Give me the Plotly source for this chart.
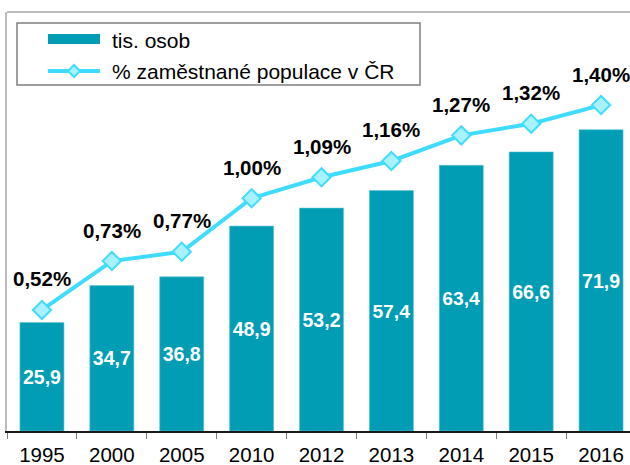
import plotly.graph_objects as go

years = ["1995", "2000", "2005", "2010", "2012", "2013", "2014", "2015", "2016"]
tis_osob = [25.9, 34.7, 36.8, 48.9, 53.2, 57.4, 63.4, 66.6, 71.9]
podil_pct = [0.52, 0.73, 0.77, 1.00, 1.09, 1.16, 1.27, 1.32, 1.40]
name_bar = "tis. osob"
name_line = "% zaměstnané populace v ČR"

BAR = "#009db5"
LINE = "#3fdcff"
MFILL = "#a8f2ff"
FONT = "Liberation Sans, Arial, sans-serif"

W, H = 630, 465
ML, MR, MT, MB = 7, 0, 12, 34
PW, PH = W - ML - MR, H - MT - MB


def px(x):
    return (x - ML) / PW


def py(y):
    return 1 - (y - MT) / PH


fig = go.Figure()
fig.add_trace(go.Bar(
    x=years, y=tis_osob, name=name_bar, showlegend=False,
    marker=dict(color=BAR, line=dict(color="#5fc4d4", width=0.6)),
    width=0.63,
    texttemplate="%{y:.1f}", textposition="inside", insidetextanchor="middle",
    textangle=0,
    textfont=dict(family=FONT, size=20.5, color="white", weight="bold"),
))
fig.add_trace(go.Scatter(
    x=years, y=podil_pct, name=name_line, yaxis="y2", showlegend=False,
    mode="lines+markers",
    line=dict(color=LINE, width=4),
    marker=dict(symbol="diamond", size=14, color=MFILL, line=dict(color=LINE, width=2)),
))

# percentage labels above the line points (category index used as x)
for i, v in enumerate(podil_pct):
    fig.add_annotation(
        x=i, y=v, xref="x", yref="y2", text=f"{v:.2f}".replace(".", ",") + "%",
        showarrow=False, yshift=31,
        font=dict(family=FONT, size=20.5, color="black", weight="bold"),
    )

# top frame line of the plot area
fig.add_shape(type="line", xref="paper", yref="paper", x0=0, x1=1, y0=1, y1=1,
              line=dict(color="#bcbcbc", width=2))

# legend box (drawn to match the reference's wide swatches)
fig.add_shape(type="rect", xref="paper", yref="paper",
              x0=px(17), x1=px(420), y0=py(85), y1=py(23),
              line=dict(color="#7f7f7f", width=1.5), fillcolor="white", layer="above")
fig.add_shape(type="rect", xref="paper", yref="paper",
              x0=px(48), x1=px(100), y0=py(44), y1=py(34),
              line=dict(width=0), fillcolor=BAR, layer="above")
fig.add_shape(type="line", xref="paper", yref="paper",
              x0=px(48), x1=px(100), y0=py(71), y1=py(71),
              line=dict(color=LINE, width=4), layer="above")
fig.add_shape(type="path", xref="paper", yref="paper",
              path=(f"M {px(74)},{py(65)} L {px(80)},{py(71)} L {px(74)},{py(77)} "
                    f"L {px(68)},{py(71)} Z"),
              line=dict(color=LINE, width=2), fillcolor=MFILL, layer="above")
fig.add_annotation(xref="paper", yref="paper", x=px(110), y=py(40), text=name_bar,
                   xanchor="left", yanchor="middle", showarrow=False,
                   font=dict(family=FONT, size=21, color="black"))
fig.add_annotation(xref="paper", yref="paper", x=px(110), y=py(71), text=name_line,
                   xanchor="left", yanchor="middle", showarrow=False,
                   font=dict(family=FONT, size=21, color="black"))

fig.update_layout(
    width=W, height=H,
    margin=dict(l=ML, r=MR, t=MT, b=MB, autoexpand=False),
    paper_bgcolor="white", plot_bgcolor="white",
    separators=",.",
    font=dict(family=FONT, size=21, color="black"),
    showlegend=False,
    xaxis=dict(
        type="category", range=[-0.5, 8.414], automargin=False,
        showline=True, linecolor="#1a1a1a", linewidth=2,
        ticks="outside", tickson="boundaries", ticklen=6, tickcolor="#808080", tickwidth=1,
        tickfont=dict(family=FONT, size=20.5, color="black"), ticklabelstandoff=4,
        showgrid=False, fixedrange=True,
    ),
    yaxis=dict(range=[0, 100], showline=True, linecolor="#bcbcbc", linewidth=2,
               showticklabels=False, ticks="", showgrid=False, zeroline=False,
               automargin=False, fixedrange=True),
    yaxis2=dict(range=[0, 1.8], overlaying="y", side="right", showline=False,
                showticklabels=False, ticks="", showgrid=False, zeroline=False,
                automargin=False, fixedrange=True),
)

fig.write_html("out.html", config={"displayModeBar": False},
               post_script="document.body.style.margin='0';document.body.style.overflow='hidden';")
